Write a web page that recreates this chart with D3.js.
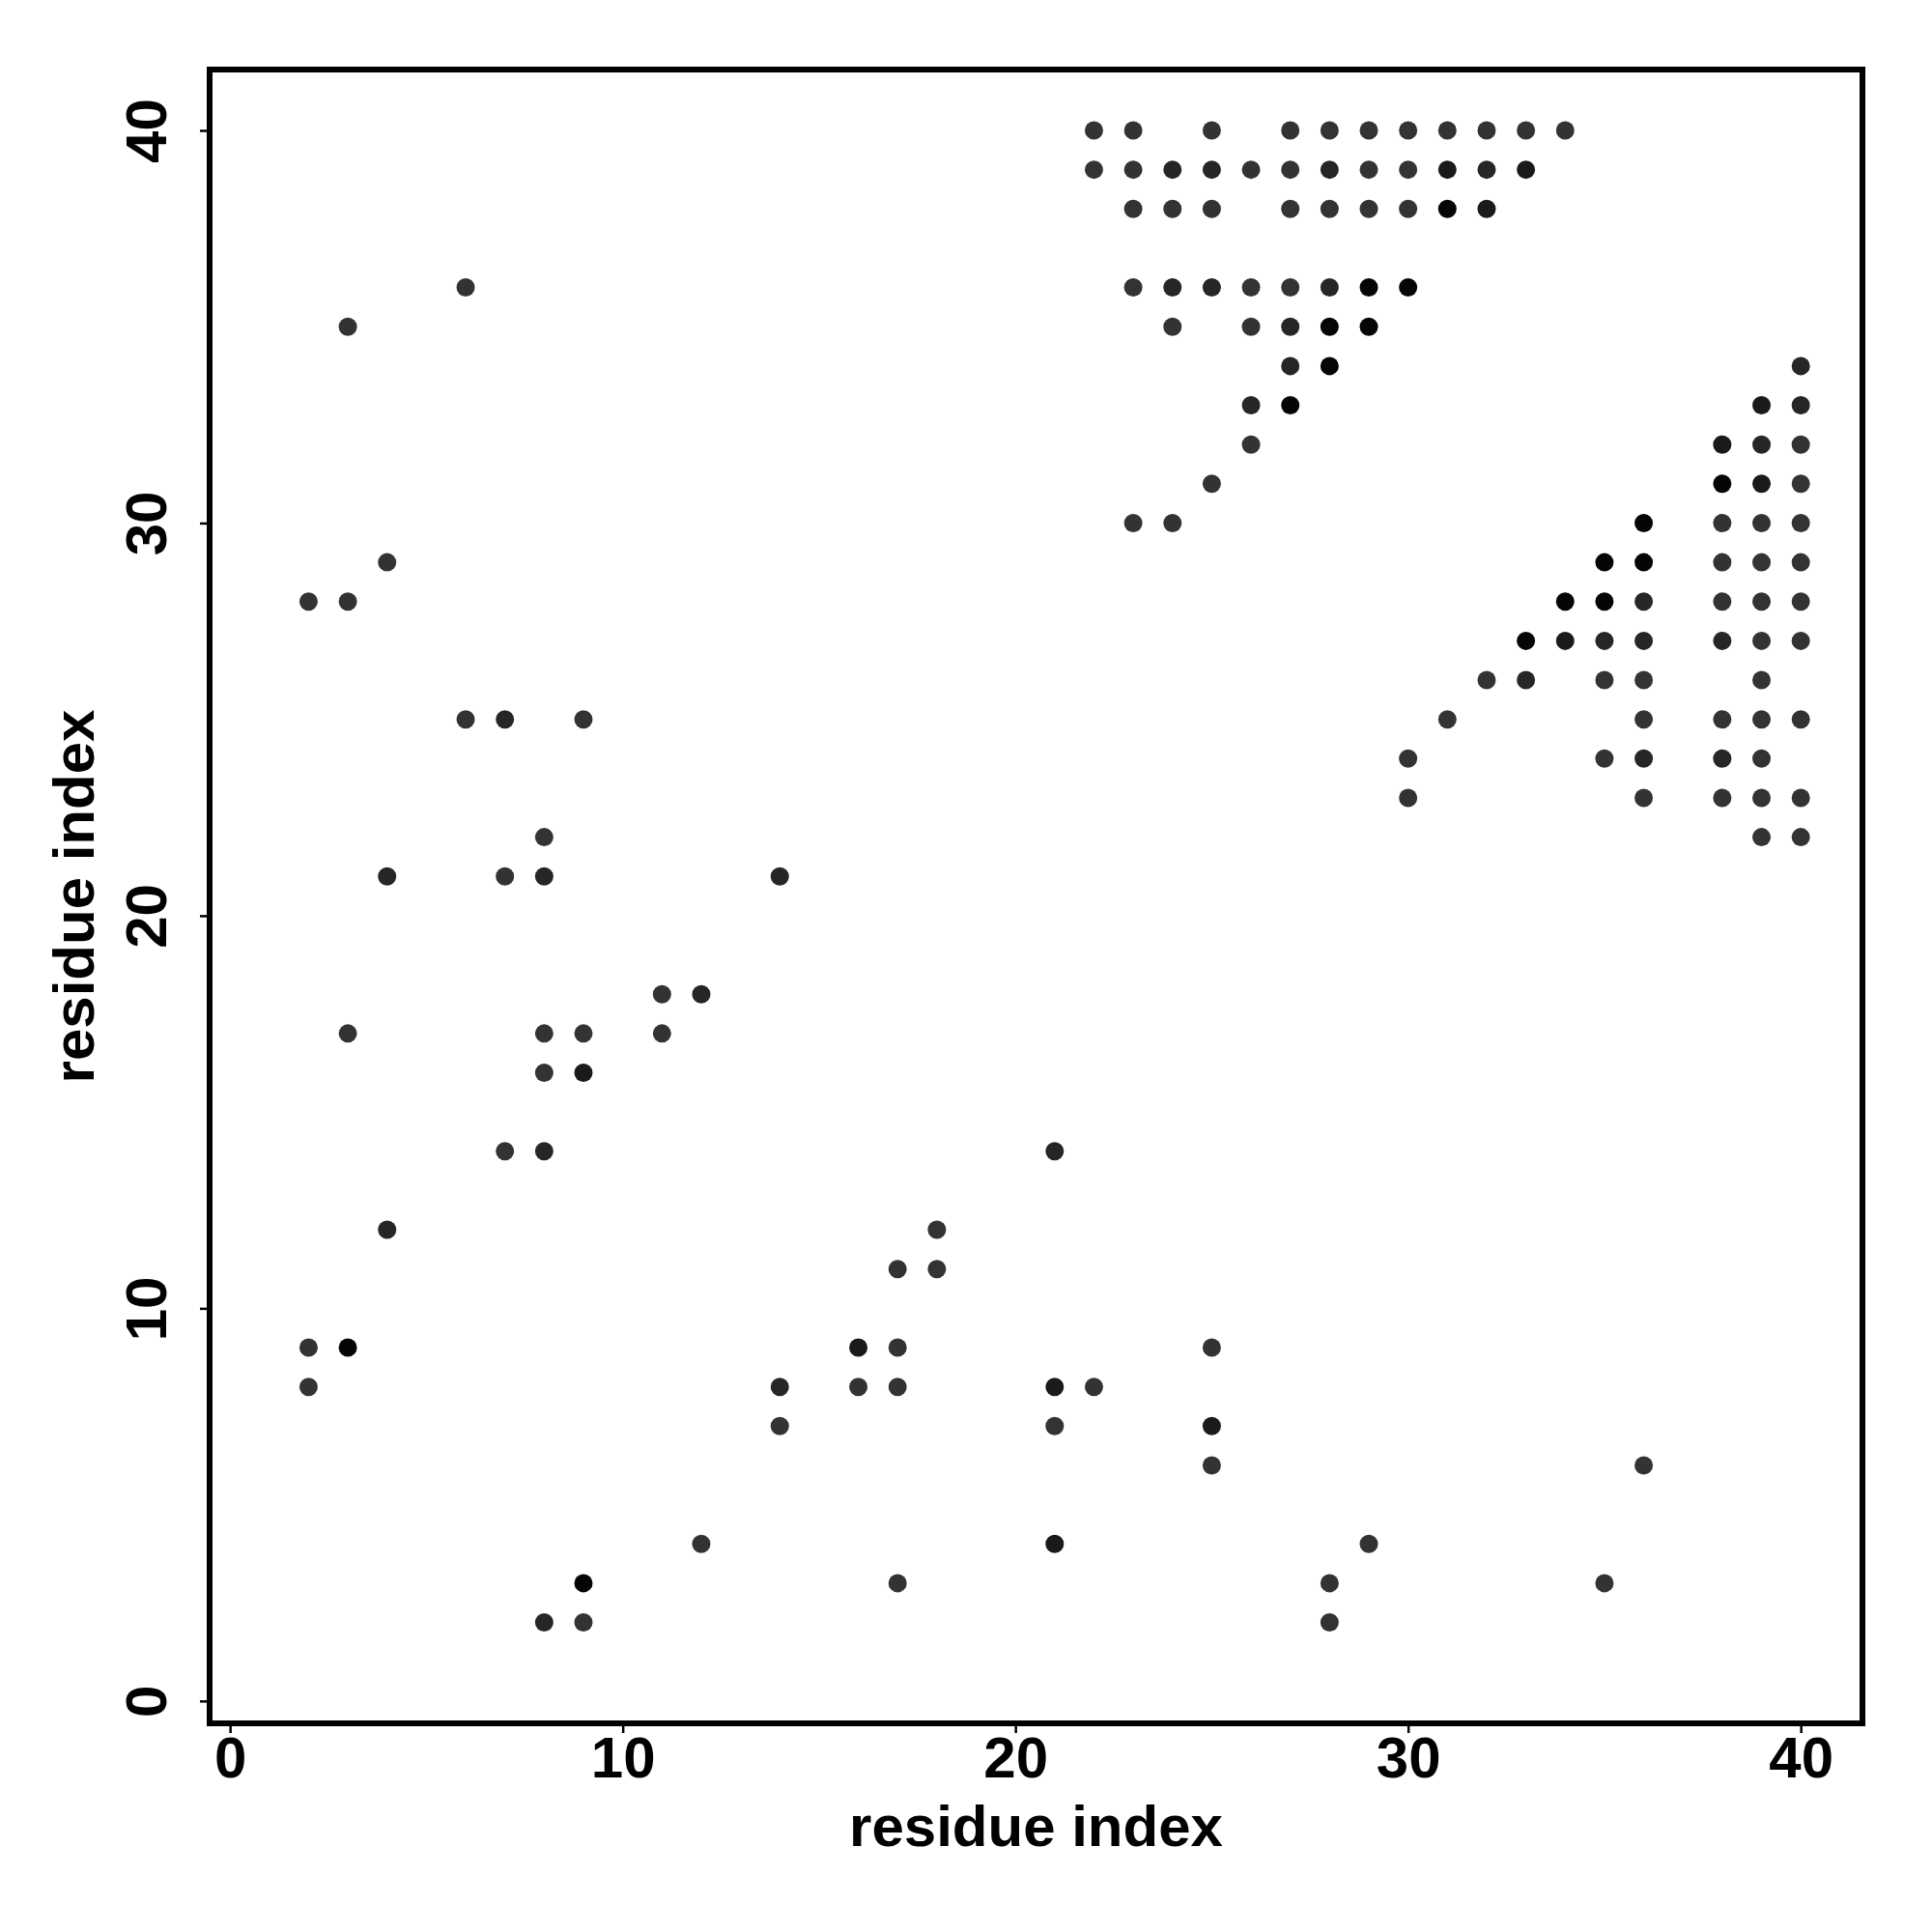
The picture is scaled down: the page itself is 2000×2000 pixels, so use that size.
<!DOCTYPE html>
<html>
<head>
<meta charset="utf-8">
<script src="https://cdn.jsdelivr.net/npm/d3@7"></script>
<style>
  html, body { margin: 0; padding: 0; background: #fff; }
  svg { display: block; }
</style>
</head>
<body>
<svg id="chart" width="2000" height="2000"></svg>
<script>
// ---- data: residue pairs (i, j) and overlap count (shade) ----
const residueI = [
  // off-diagonal / lower region
  2,3,4,3,6,
  6,7,9,
  8,
  4,7,8,14,
  11,12,
  3,8,9,11,
  8,9,
  7,8,
  21,
  4,18,
  17,18,
  2,3,16,17,25,
  2,14,16,17,21,22,
  14,21,25,
  25,36,
  12,21,29,
  9,17,28,35,
  8,9,28,
  // upper cluster
  22,23,25,27,28,29,30,31,32,33,34,
  22,23,24,25,26,27,28,29,30,31,32,33,
  23,24,25,27,28,29,30,31,32,
  23,24,25,26,27,28,29,30,
  24,26,27,28,29,
  27,28,
  26,27,
  26,
  25,
  23,24,
  // right cluster
  40,
  39,40,
  38,39,40,
  38,39,40,
  36,38,39,40,
  35,36,38,39,40,
  34,35,36,38,39,40,
  33,34,35,36,38,39,40,
  32,33,35,36,39,
  31,36,38,39,40,
  30,35,36,38,39,
  30,36,38,39,40,
  39,40
];
const residueJ = [
  28,28,29,35,36,
  25,25,25,
  22,
  21,21,21,21,
  18,18,
  17,17,17,17,
  16,16,
  14,14,
  14,
  12,12,
  11,11,
  9,9,9,9,9,
  8,8,8,8,8,8,
  7,7,7,
  6,6,
  4,4,4,
  3,3,3,3,
  2,2,2,
  40,40,40,40,40,40,40,40,40,40,40,
  39,39,39,39,39,39,39,39,39,39,39,39,
  38,38,38,38,38,38,38,38,38,
  36,36,36,36,36,36,36,36,
  35,35,35,35,35,
  34,34,
  33,33,
  32,
  31,
  30,30,
  34,
  33,33,
  32,32,32,
  31,31,31,
  30,30,30,30,
  29,29,29,29,29,
  28,28,28,28,28,28,
  27,27,27,27,27,27,27,
  26,26,26,26,26,
  25,25,25,25,25,
  24,24,24,24,24,
  23,23,23,23,23,
  22,22
];
const overlap = [
  1,1,1,1,1,
  1,2,1,
  1,
  2,1,2,2,
  1,2,
  1,1,1,1,
  1,3,
  1,2,
  2,
  2,1,
  1,1,
  1,4,3,1,1,
  1,2,1,1,3,1,
  1,1,3,
  1,1,
  1,3,1,
  4,1,1,1,
  2,1,1,
  1,1,1,1,1,1,1,1,1,1,1,
  1,1,2,2,1,1,2,1,1,3,2,3,
  1,1,1,1,1,1,1,4,3,
  1,2,2,1,1,2,4,4,
  1,1,2,4,4,
  2,4,
  2,4,
  1,
  1,
  1,1,
  2,
  3,2,
  3,2,1,
  4,3,1,
  4,1,1,1,
  4,4,1,1,1,
  4,4,2,1,1,1,
  4,3,2,2,2,1,1,
  1,2,1,1,1,
  1,1,1,1,1,
  1,1,2,2,1,
  1,1,1,1,1,
  1,1
];
const xTicks = [0, 10, 20, 30, 40];
const yTicks = [0, 10, 20, 30, 40];
const xTitle = "residue index";
const yTitle = "residue index";

(function () {
const points = residueI.map((d, k) => ({ i: d, j: residueJ[k], n: overlap[k] }));

// ---- layout ----
const padL = 217, padR = 1928, padT = 72, padB = 1784;
const font = "'Liberation Sans', Arial, Helvetica, sans-serif";

const svg = d3.select("#chart");
svg.append("rect").attr("width", 2000).attr("height", 2000).attr("fill", "#fff");

const x = d3.scaleLinear().domain([-0.52, 41.57]).range([padL, padR]);
const y = d3.scaleLinear().domain([-0.57, 41.55]).range([padB, padT]);
const shade = d3.scaleOrdinal().domain([1, 2, 3, 4]).range(["#333333", "#262626", "#1a1a1a", "#050505"]);

// points
svg.append("g").selectAll("circle").data(points).join("circle")
  .attr("cx", d => x(d.i))
  .attr("cy", d => y(d.j))
  .attr("r", 9.5)
  .attr("fill", d => shade(d.n));

// x axis
const gx = svg.append("g").attr("transform", `translate(0,${padB})`)
  .call(d3.axisBottom(x).tickValues(xTicks).tickSize(10).tickPadding(3).tickFormat(d3.format("d")));
gx.select(".domain").remove();
gx.selectAll(".tick line").attr("stroke", "#000").attr("stroke-width", 2.5);
gx.selectAll(".tick text")
  .attr("font-family", font).attr("font-weight", "bold").attr("font-size", 60).attr("fill", "#000");

// y axis
const gy = svg.append("g").attr("transform", `translate(${padL},0)`)
  .call(d3.axisLeft(y).tickValues(yTicks).tickSize(10).tickFormat(d3.format("d")));
gy.select(".domain").remove();
gy.selectAll(".tick line").attr("stroke", "#000").attr("stroke-width", 2.5);
gy.selectAll(".tick text")
  .attr("font-family", font).attr("font-weight", "bold").attr("font-size", 60).attr("fill", "#000")
  .attr("text-anchor", "middle")
  .attr("x", 0).attr("y", -45).attr("dy", 0)
  .attr("transform", "rotate(-90)");

// plot box
svg.append("rect")
  .attr("x", padL).attr("y", padT)
  .attr("width", padR - padL).attr("height", padB - padT)
  .attr("fill", "none").attr("stroke", "#000").attr("stroke-width", 6);

// titles
svg.append("text")
  .attr("x", (padL + padR) / 2).attr("y", 1911)
  .attr("text-anchor", "middle")
  .attr("font-family", font).attr("font-weight", "bold").attr("font-size", 60)
  .text(xTitle);

svg.append("text")
  .attr("transform", `translate(97,${(padT + padB) / 2}) rotate(-90)`)
  .attr("text-anchor", "middle")
  .attr("font-family", font).attr("font-weight", "bold").attr("font-size", 60)
  .text(yTitle);
})();
</script>
</body>
</html>
